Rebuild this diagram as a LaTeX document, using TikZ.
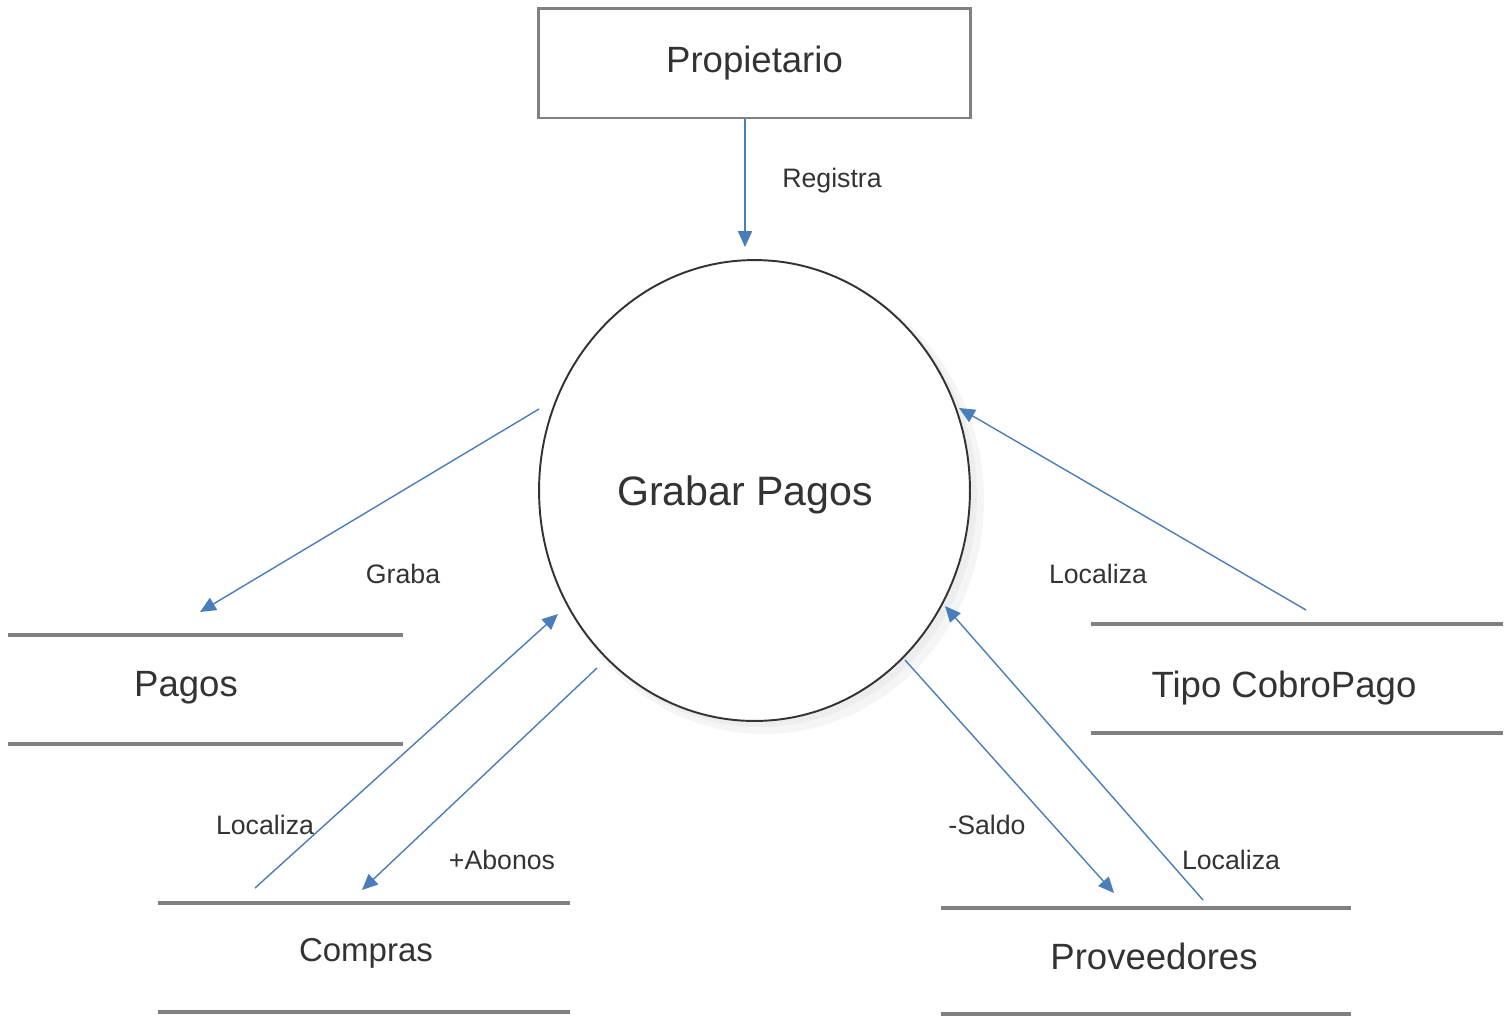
\documentclass[tikz,border=0pt]{standalone}
\usepackage{fontspec}
\setmainfont{Liberation Sans}
\usetikzlibrary{arrows.meta,shapes.geometric}
\definecolor{flow}{HTML}{4A7EBB}
\definecolor{txt}{HTML}{333333}
\definecolor{edgegray}{HTML}{808080}
\begin{document}
\begin{tikzpicture}[x=0.02cm,y=-0.02cm,
  flowline/.style={draw=flow,line width=0.8pt,-{Triangle[length=9pt,width=8pt]}},
  flowlabel/.style={text=txt,font=\fontsize{15.2}{18}\selectfont,inner sep=0pt},
  storetext/.style={text=txt,font=\fontsize{20.8}{25}\selectfont,inner sep=0pt},
  storeline/.style={draw=edgegray,line width=2.2pt},
  storeframe/.style={inner sep=0pt,minimum height=2.18cm},
  entity/.style={draw=edgegray,line width=1.7pt,text=txt,font=\fontsize{20.8}{25}\selectfont,minimum width=8.66cm,minimum height=2.2cm,inner sep=0pt},
  process/.style={ellipse,draw=black!80,line width=1.1pt,fill=white,minimum width=8.62cm,minimum height=9.22cm,inner sep=0pt},
  processtext/.style={text=txt,font=\fontsize{23.4}{28}\selectfont,inner sep=0pt}]
\useasboundingbox (0,0) rectangle (1510,1015);

% entity
\node[entity] (prop) at (754.5,63) {Propietario};

% process with soft shadow
\fill[black!4] (764,500) ellipse [x radius=4.4cm, y radius=4.68cm];
\fill[black!7] (760,496) ellipse [x radius=4.34cm, y radius=4.62cm];
\node[process] (proc) at (754.5,490.5) {};
\node[processtext] (proct) at (745,495) {Grabar Pagos};

% data stores (frames)
\node[storeframe,minimum width=7.9cm] (pagos) at (205.5,689.5) {};
\node[storeframe,minimum width=8.24cm] (compras) at (364,957.5) {};
\node[storeframe,minimum width=8.24cm] (tipo) at (1297,678.5) {};
\node[storeframe,minimum width=8.2cm,minimum height=2.12cm] (prov) at (1146,961) {};
\foreach \s in {pagos,compras,tipo,prov}{
  \draw[storeline] (\s.north west) -- (\s.north east);
  \draw[storeline] (\s.south west) -- (\s.south east);
}
% data store names
\node[storetext] (pagost) at (186,688) {Pagos};
\node[storetext,font=\fontsize{18.8}{23}\selectfont] (comprast) at (366,953) {Compras};
\node[storetext] (tipot) at (1284,688) {Tipo CobroPago};
\node[storetext] (provt) at (1154,956) {Proveedores};

% connector end points
\coordinate (regS) at (745,119);
\coordinate (regE) at (745,247);
\coordinate (grabaS) at (539,409);
\coordinate (grabaE) at (200,612);
\coordinate (locLS) at (255,888);
\coordinate (locLE) at (558,614);
\coordinate (aboS) at (597,668);
\coordinate (aboE) at (362,890);
\coordinate (locTS) at (1306,610);
\coordinate (locTE) at (959,408);
\coordinate (salS) at (905,660);
\coordinate (salE) at (1114,893);
\coordinate (locBS) at (1203,900);
\coordinate (locBE) at (945,606);

\draw[flowline] (regS) -- (regE);
\draw[flowline] (grabaS) -- (grabaE);
\draw[flowline] (locLS) -- (locLE);
\draw[flowline] (aboS) -- (aboE);
\draw[flowline] (locTS) -- (locTE);
\draw[flowline] (salS) -- (salE);
\draw[flowline] (locBS) -- (locBE);

% labels
\node[flowlabel] (lreg) at (832,181) {Registra};
\node[flowlabel] (lgraba) at (403,574) {Graba};
\node[flowlabel] (llocl) at (265,825) {Localiza};
\node[flowlabel] (labo) at (502,860) {+Abonos};
\node[flowlabel] (lloct) at (1098,574) {Localiza};
\node[flowlabel] (lsal) at (987,825) {-Saldo};
\node[flowlabel] (llocb) at (1231,860) {Localiza};
\end{tikzpicture}
\end{document}
